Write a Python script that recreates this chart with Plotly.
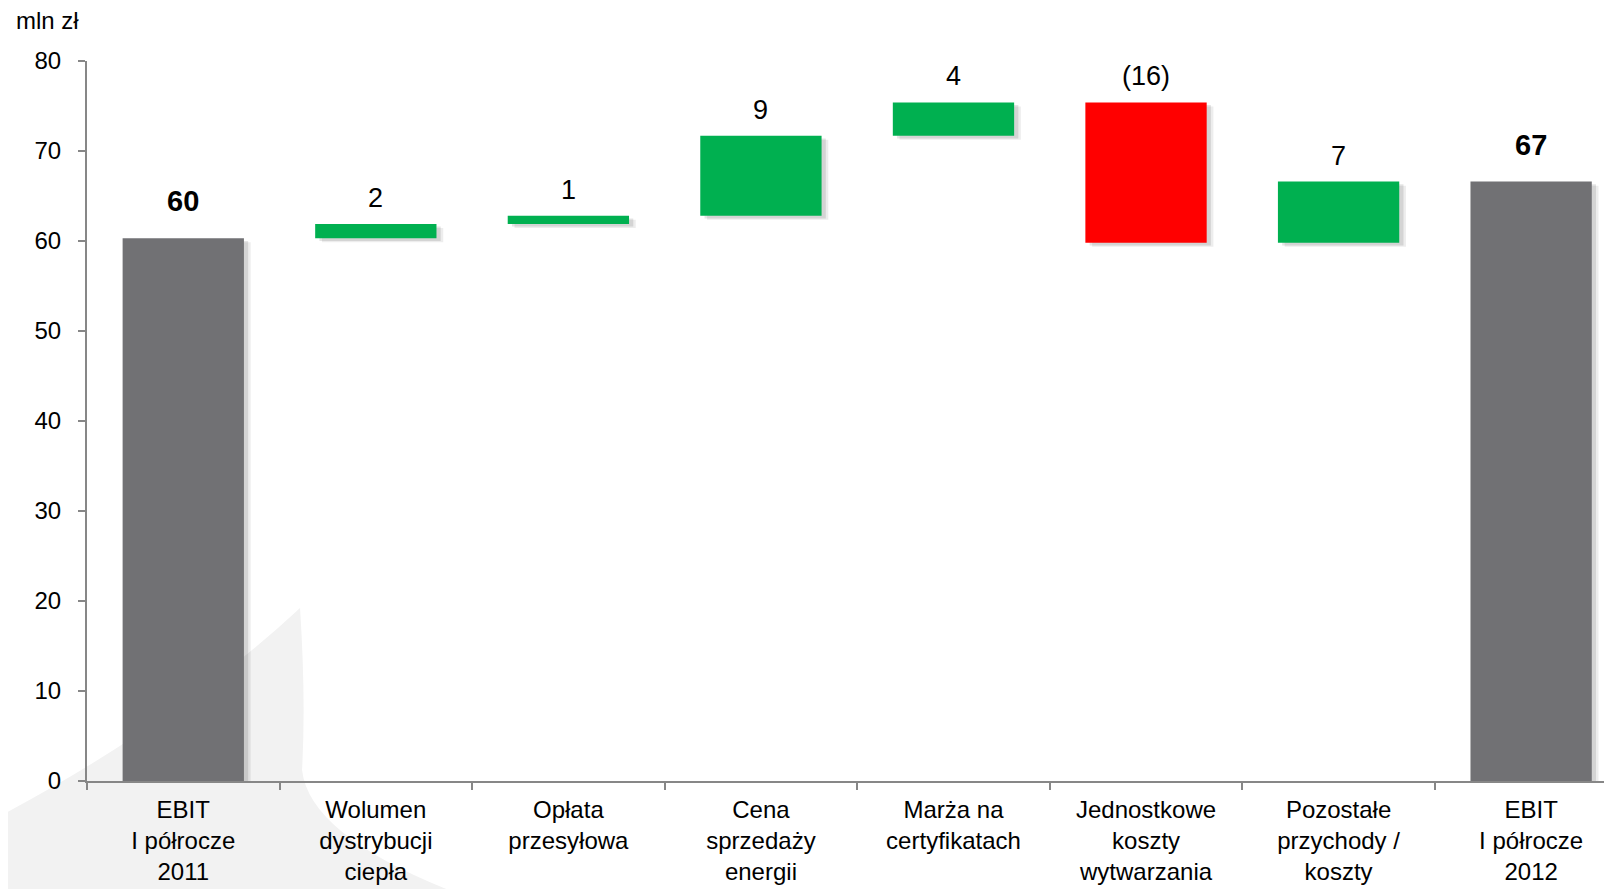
import plotly.graph_objects as go
import numpy as np

# dane (mln zł)
categories = ["EBIT<br>I półrocze<br>2011", "Wolumen<br>dystrybucji<br>ciepła", "Opłata<br>przesyłowa",
              "Cena<br>sprzedaży<br>energii", "Marża na<br>certyfikatach", "Jednostkowe<br>koszty<br>wytwarzania",
              "Pozostałe<br>przychody /<br>koszty", "EBIT<br>I półrocze<br>2012"]
start_value = 60.3
changes = [1.6, 0.9, 8.9, 3.7, -15.6, 6.8]
value_labels = ["60", "2", "1", "9", "4", "(16)", "7", "67"]

GRAY = "#717174"
GREEN = "#00B050"
RED = "#FF0000"
FONT = "Liberation Sans, Arial, sans-serif"

# waterfall: podstawy i wysokości słupków
running = start_value + np.concatenate([[0], np.cumsum(changes)])
end_value = running[-1]
bases = [0.0]
heights = [start_value]
colors = [GRAY]
for i, ch in enumerate(changes):
    prev = running[i]
    bases.append(min(prev, prev + ch))
    heights.append(abs(ch))
    colors.append(GREEN if ch >= 0 else RED)
bases.append(0.0)
heights.append(end_value)
colors.append(GRAY)
tops = [b + h for b, h in zip(bases, heights)]

fig = go.Figure()

# cień pod słupkami
for dx, dy, op in [(0.035, 0.45, 0.07), (0.022, 0.3, 0.10)]:
    fig.add_trace(go.Bar(x=categories, y=heights, base=[b - dy for b in bases],
                         width=0.63, offset=-0.315 + dx,
                         marker=dict(color="rgba(0,0,0,%s)" % op, line=dict(width=0)),
                         hoverinfo="skip", showlegend=False))

fig.add_trace(go.Bar(x=categories, y=heights, base=bases, width=0.63, offset=-0.315,
                     marker=dict(color=colors, line=dict(width=0)),
                     showlegend=False, hovertemplate="%{x}<br>%{y:.1f}<extra></extra>"))

# etykiety wartości
for i, (cat, top, lab) in enumerate(zip(categories, tops, value_labels)):
    bold = i in (0, len(categories) - 1)
    fig.add_annotation(x=cat, y=top, text="<b>%s</b>" % lab if bold else lab,
                       showarrow=False, yanchor="bottom", yshift=19 if bold else 9,
                       font=dict(family=FONT, size=29 if bold else 27, color="#000000"))

fig.add_annotation(x=-0.048, y=1.056, xref="paper", yref="paper", text="mln zł", showarrow=False,
                   xanchor="left", yanchor="middle", font=dict(family=FONT, size=24, color="#000000"))

# znak wodny w tle (jasnoszary łuk); współrzędne strony -> paper
L, R_, T, B = 87, 1612, 61, 781
def px(x, y):
    return "%.4f,%.4f" % ((x - L) / (R_ - L), (B - y) / (B - T))
path = ("M " + px(0, 816) + " Q " + px(180, 720) + " " + px(300, 608) +
        " Q " + px(306, 700) + " " + px(302, 770) + " Q " + px(310, 840) + " " + px(475, 900) +
        " L " + px(0, 900) + " Z")
fig.add_shape(type="path", path=path, xref="paper", yref="paper",
              fillcolor="#f2f2f2", line=dict(width=0), layer="below")

# body strony ma margines 8 px, stąd mniejsze wymiary i marginesy
fig.update_layout(
    width=1604, height=881,
    margin=dict(l=79, r=0, t=53, b=108, autoexpand=False),
    paper_bgcolor="white", plot_bgcolor="rgba(0,0,0,0)",
    barmode="overlay", bargap=0.37,
    font=dict(family=FONT, color="#000000"),
    xaxis=dict(type="category", range=[-0.5, 7.42], tickson="boundaries",
               ticks="outside", ticklen=7, tickwidth=2, tickcolor="#878787",
               showline=True, linecolor="#878787", linewidth=2, showgrid=False,
               ticklabelstandoff=6, automargin=False,
               tickfont=dict(family=FONT, size=24, color="#000000")),
    yaxis=dict(range=[0, 80], dtick=10, ticks="outside", ticklen=7, tickwidth=2,
               tickcolor="#878787", showline=True, linecolor="#878787", linewidth=2,
               showgrid=False, zeroline=False, ticklabelstandoff=12, automargin=False,
               tickfont=dict(family=FONT, size=24, color="#000000")),
)

fig.write_html("out.html")
